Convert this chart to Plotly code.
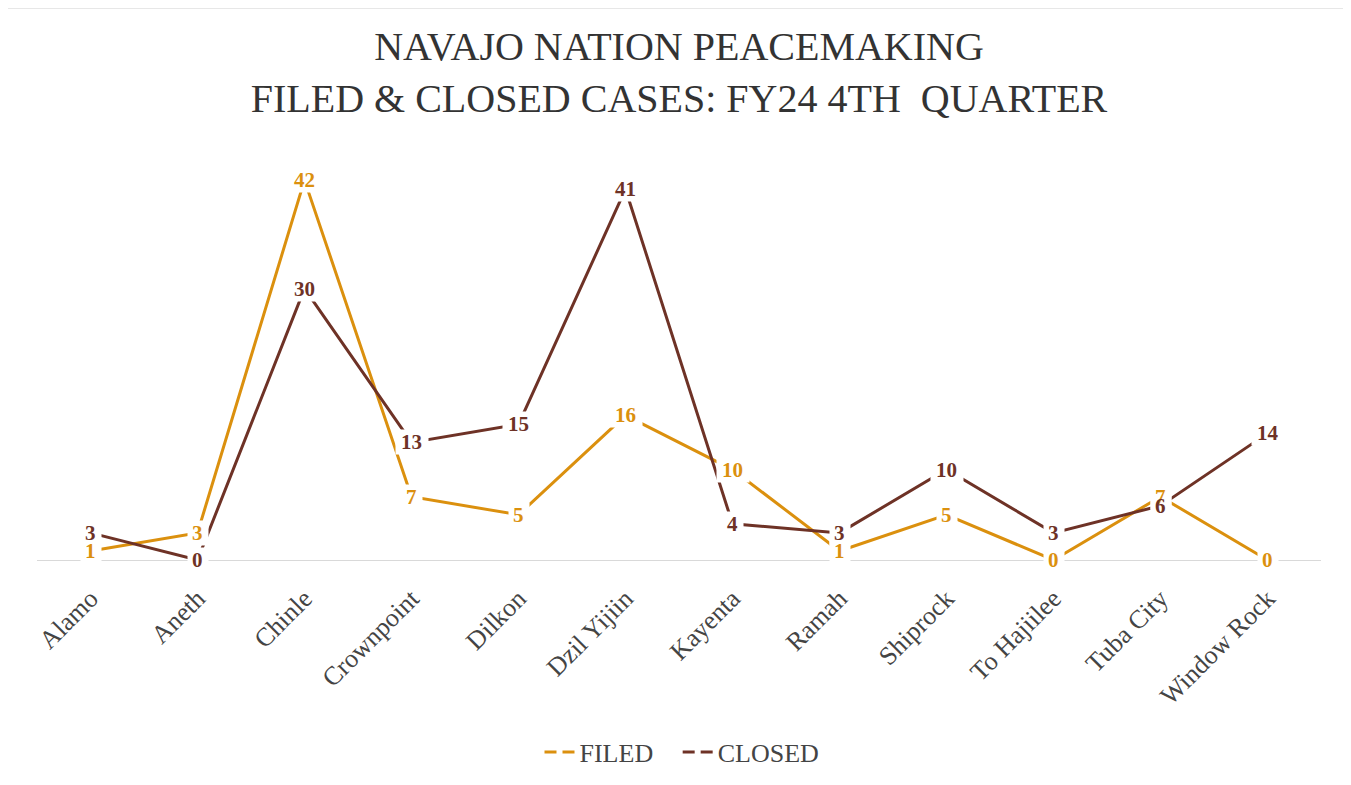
import plotly.graph_objects as go

categories = ["Alamo", "Aneth", "Chinle", "Crownpoint", "Dilkon", "Dzil Yijiin",
              "Kayenta", "Ramah", "Shiprock", "To Hajiilee", "Tuba City", "Window Rock"]
filed = [1, 3, 42, 7, 5, 16, 10, 1, 5, 0, 7, 0]
closed = [3, 0, 30, 13, 15, 41, 4, 3, 10, 3, 6, 14]

FILED_C = "#DB900E"
CLOSED_C = "#6E3226"
FONT = "Liberation Serif"

# page body has an 8px margin: work in figure pixels (screen - 8)
W, H = 1351, 785
OFF = 8
ML, MR, MT, MB = 37 - OFF, 38, 153 - OFF, 785 - (560 - OFF)
PW, PH = W - ML - MR, H - MT - MB


def px_x(p):
    return (p - OFF - ML) / PW


def px_y(p):
    return (H - MB - (p - OFF)) / PH


fig = go.Figure()
fig.add_trace(go.Scatter(x=categories, y=filed, mode="lines", name="FILED",
                         line=dict(color=FILED_C, width=3), showlegend=False))
fig.add_trace(go.Scatter(x=categories, y=closed, mode="lines", name="CLOSED",
                         line=dict(color=CLOSED_C, width=3), showlegend=False))
# legend entries (dashed look as in reference)
fig.add_trace(go.Scatter(x=[None], y=[None], mode="lines", name="FILED   ",
                         line=dict(color=FILED_C, width=3, dash="12px,6px")))
fig.add_trace(go.Scatter(x=[None], y=[None], mode="lines", name="CLOSED",
                         line=dict(color=CLOSED_C, width=3, dash="12px,6px")))

annotations = []
# layer 1: blank white boxes that break the lines around each label
for series in (filed, closed):
    for c, v in zip(categories, series):
        annotations.append(dict(x=c, y=v, xref="x", yref="y", text=" ",
                                showarrow=False, xanchor="center", yanchor="middle",
                                width=12 * len(str(v)) + 8, height=24,
                                font=dict(family=FONT, size=10, color="white"),
                                bgcolor="white", borderpad=0))
# layer 2: the coloured value labels
for series, color in ((filed, FILED_C), (closed, CLOSED_C)):
    for c, v in zip(categories, series):
        annotations.append(dict(x=c, y=v, xref="x", yref="y", text=f"<b>{v}</b>",
                                showarrow=False, xanchor="center", yanchor="middle",
                                font=dict(family=FONT, size=21, color=color)))

fig.update_layout(
    width=W, height=H,
    paper_bgcolor="white", plot_bgcolor="white",
    margin=dict(l=ML, r=MR, t=MT, b=MB, autoexpand=False),
    title=dict(text="NAVAJO NATION PEACEMAKING<br>FILED &amp; CLOSED CASES: FY24 4TH  QUARTER",
               x=px_x(679), xref="paper", xanchor="center", y=0.934, yanchor="middle",
               font=dict(family=FONT, size=40, color="#333333")),
    xaxis=dict(showline=True, linecolor="#d9d9d9", linewidth=1, showgrid=False,
               range=[-0.5, 11.5],
               ticks="", tickangle=-45, zeroline=False, automargin=False,
               ticklabelstandoff=12,
               tickfont=dict(family=FONT, size=26, color="#444444")),
    yaxis=dict(range=[0, 45], visible=False, showgrid=False, zeroline=False,
               automargin=False),
    legend=dict(orientation="h", x=px_x(682), xanchor="center", y=px_y(752), yanchor="middle",
                font=dict(family=FONT, size=26, color="#444444")),
    annotations=annotations,
    shapes=[dict(type="rect", xref="paper", yref="paper",
                 x0=px_x(6), x1=px_x(1349), y0=px_y(800), y1=px_y(8),
                 line=dict(color="#e0e0e0", width=1.5))],
)

fig.write_html("out.html")
